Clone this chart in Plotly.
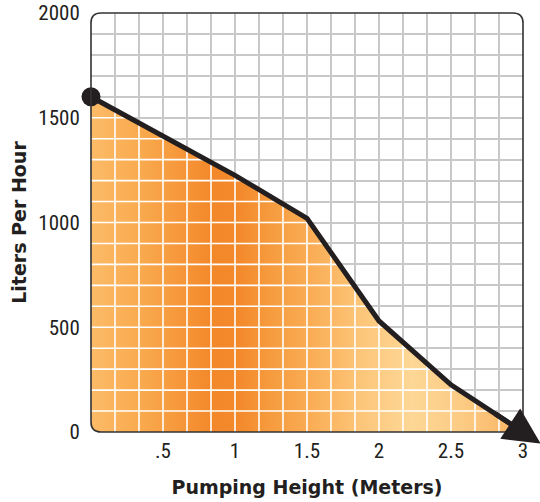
import numpy as np
import plotly.graph_objects as go

# Data
heights = [0.0, 1.0, 1.5, 2.0, 2.5, 3.0]
liters = [1600, 1225, 1020, 530, 225, 0]

x_tickvals = [0.5, 1, 1.5, 2, 2.5, 3]
x_ticktext = [".5", "1", "1.5", "2", "2.5", "3"]
y_tickvals = [0, 500, 1000, 1500, 2000]
y_ticktext = ["0", "500", "1000", "1500", "2000"]

INK = "#231f20"
GRID = "#c8c8c8"
TICKFONT = dict(family="Liberation Sans Narrow, Roboto Condensed, Arial Narrow, sans-serif", size=21, color=INK)
TITLEFONT = dict(family="DejaVu Sans, sans-serif", size=19, color=INK, weight="bold")

W, H = 540, 502
ML, MR, MT, MB = 91, 17, 13, 70
PW, PH = W - ML - MR, H - MT - MB

xs = np.array(heights, dtype=float)
ys = np.array(liters, dtype=float)

fig = go.Figure()

# gradient area under curve
fig.add_trace(go.Scatter(
    x=heights, y=liters, mode="lines", line=dict(width=0, color="rgba(0,0,0,0)"),
    fill="tozeroy",
    fillgradient=dict(type="horizontal", colorscale=[
        [0.0, "#fcbb68"], [0.12, "#f9a94d"], [0.28, "#f3882a"], [0.34, "#f3892b"],
        [0.42, "#f69c3f"], [0.52, "#faaf58"], [0.62, "#fcc578"], [0.74, "#fdd796"],
        [0.86, "#fccb84"], [1.0, "#f9b25f"]]),
    hoverinfo="skip", showlegend=False))

# white grid lines over the filled area
gx, gy = [], []
for k in range(1, 18):
    xv = k / 6
    top = float(np.interp(xv, xs, ys))
    gx += [xv, xv, None]
    gy += [0, top, None]
for yv in range(100, 2000, 100):
    if yv < ys.max():
        xe = float(np.interp(yv, ys[::-1], xs[::-1]))
        gx += [0, xe, None]
        gy += [yv, yv, None]
fig.add_trace(go.Scatter(x=gx, y=gy, mode="lines", line=dict(color="white", width=1.6),
                         hoverinfo="skip", showlegend=False))

# the curve
fig.add_trace(go.Scatter(x=heights, y=liters, mode="lines", line=dict(color=INK, width=5),
                         hoverinfo="skip", showlegend=False, cliponaxis=False))
# start dot
fig.add_trace(go.Scatter(x=heights[:1], y=liters[:1], mode="markers",
                         marker=dict(size=19, color=INK), cliponaxis=False,
                         hoverinfo="skip", showlegend=False))

# arrow head continuing the last segment
sx = PW / 3.0
sy = PH / 2000.0
dx, dy = xs[-1] - xs[-2], ys[-1] - ys[-2]
plen = np.hypot(dx * sx, dy * sy)
ext = 21.0 / plen
tipx, tipy = xs[-1] + dx * ext, ys[-1] + dy * ext
fig.add_annotation(x=tipx, y=tipy, ax=xs[-2] + dx * 0.6, ay=ys[-2] + dy * 0.6,
                   xref="x", yref="y", axref="x", ayref="y", text="",
                   showarrow=True, arrowhead=2, arrowwidth=5, arrowsize=1.45,
                   arrowcolor=INK, standoff=0)

# rounded plot frame
rx, ry = 10 / PW, 10 / PH
for (cx, cy, sxn, syn) in [(0, 0, 1, 1), (0, 1, 1, -1), (1, 1, -1, -1), (1, 0, -1, 1)]:
    p = (f"M {cx},{cy} L {cx},{cy + syn*ry} Q {cx},{cy} {cx + sxn*rx},{cy} Z")
    fig.add_shape(type="path", path=p, xref="paper", yref="paper",
                  fillcolor="white", line=dict(width=0), layer="above")
frame = (f"M {rx},0 L {1-rx},0 Q 1,0 1,{ry} L 1,{1-ry} Q 1,1 {1-rx},1 "
         f"L {rx},1 Q 0,1 0,{1-ry} L 0,{ry} Q 0,0 {rx},0 Z")
fig.add_shape(type="path", path=frame, xref="paper", yref="paper",
              line=dict(color="#333333", width=1.6), fillcolor="rgba(0,0,0,0)", layer="above")

fig.update_xaxes(range=[0, 3], tickvals=x_tickvals, ticktext=x_ticktext, automargin=False,
                 showgrid=True, gridcolor=GRID, gridwidth=1.6, ticklabeloverflow="allow",
                 minor=dict(dtick=1/6, tick0=0, showgrid=True, gridcolor=GRID, gridwidth=1.6),
                 zeroline=False, showline=False, ticks="outside", ticklen=0,
                 tickcolor="rgba(0,0,0,0)", tickfont=TICKFONT,
                 title=dict(text="Pumping Height (Meters)", font=TITLEFONT, standoff=18))
fig.update_yaxes(range=[0, 2000], tickvals=y_tickvals, ticktext=y_ticktext, automargin=False,
                 showgrid=True, gridcolor=GRID, gridwidth=1.6, ticklabeloverflow="allow",
                 minor=dict(dtick=100, tick0=0, showgrid=True, gridcolor=GRID, gridwidth=1.6),
                 zeroline=False, showline=False, ticks="outside", ticklen=6,
                 tickcolor="rgba(0,0,0,0)", tickfont=TICKFONT,
                 title=dict(text="Liters Per Hour", font=TITLEFONT, standoff=6))

fig.update_layout(width=W, height=H, margin=dict(l=ML, r=MR, t=MT, b=MB, autoexpand=False),
                  plot_bgcolor="white", paper_bgcolor="white", showlegend=False)

fig.write_html("out.html", config={"displayModeBar": False},
               post_script="document.body.style.margin='0px';")
